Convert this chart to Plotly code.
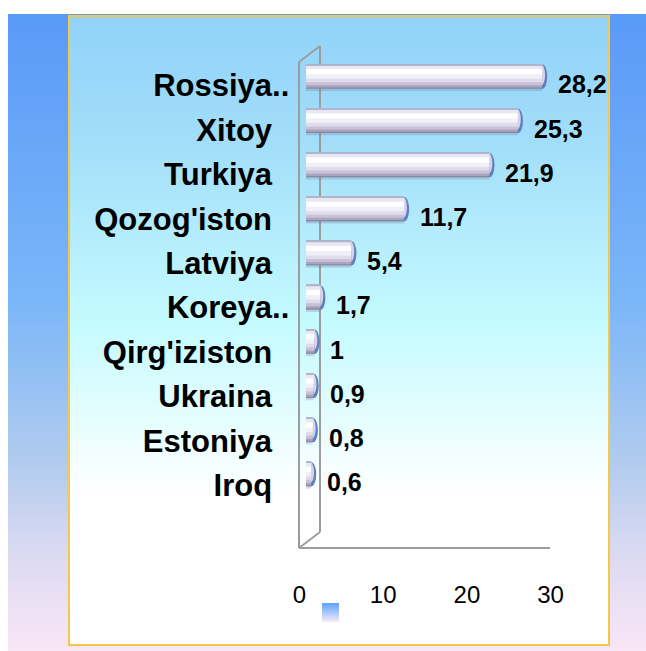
import base64
import plotly.graph_objects as go

# ---- data ----
countries = ["Rossiya..", "Xitoy", "Turkiya", "Qozog'iston", "Latviya",
             "Koreya..", "Qirg'iziston", "Ukraina", "Estoniya", "Iroq"]
values = [28.2, 25.3, 21.9, 11.7, 5.4, 1.7, 1, 0.9, 0.8, 0.6]
x_ticks = [0, 10, 20, 30]

W, H = 646, 651
idx = list(range(len(countries)))
value_text = [str(v).replace(".", ",") for v in values]
# labels without trailing dots are padded so all words end at the same place
tick_text = [c if c.endswith("..") else c + "\u00a0\u00a0" for c in countries]


def px_x(p):
    return p / W


def px_y(p):
    return 1 - p / H


# ---- background (slide gradient) as svg image ----
svg = f'''<svg xmlns="http://www.w3.org/2000/svg" width="{W}" height="{H}" viewBox="0 0 {W} {H}" preserveAspectRatio="none">
<defs>
<linearGradient id="o" x1="0" y1="0" x2="0" y2="1">
<stop offset="0" stop-color="#5a9af8"/>
<stop offset="0.45" stop-color="#7ab6f8"/>
<stop offset="0.7" stop-color="#b0cbee"/>
<stop offset="0.85" stop-color="#dcdaf2"/>
<stop offset="1" stop-color="#f9e6f6"/>
</linearGradient>
<linearGradient id="i" x1="0" y1="0" x2="0" y2="1">
<stop offset="0" stop-color="#92d2fa"/>
<stop offset="0.2" stop-color="#a2def9"/>
<stop offset="0.5" stop-color="#c6fbff"/>
<stop offset="0.76" stop-color="#ffffff"/>
<stop offset="1" stop-color="#ffffff"/>
</linearGradient>
<linearGradient id="s" x1="0" y1="0" x2="0" y2="1">
<stop offset="0" stop-color="#5ea2ff"/>
<stop offset="1" stop-color="#f6eaf8"/>
</linearGradient>
</defs>
<rect x="0" y="0" width="{W}" height="{H}" fill="#ffffff"/>
<rect x="8" y="14" width="{W-8}" height="{H-14}" fill="url(#o)"/>
<rect x="69" y="16" width="540" height="629" fill="url(#i)" stroke="#f5c84a" stroke-width="2"/>
<rect x="322" y="603" width="17" height="19" fill="url(#s)"/>
</svg>'''
bg_src = "data:image/svg+xml;base64," + base64.b64encode(svg.encode()).decode()

fig = go.Figure()

# cylinder-like bars: stacked overlay layers (shading), last drawn on top
layers = [
    (-0.25, 0.58, "rgba(90,100,140,0.22)"),   # soft shadow
    (-0.28, 0.56, "#8c86a0"),
    (-0.28, 0.53, "#aaa4bc"),
    (-0.28, 0.48, "#c8c2d8"),
    (-0.28, 0.41, "#e0dcec"),
    (-0.28, 0.33, "#f1eff8"),
    (-0.17, 0.12, "#ffffff"),
    (-0.25, 0.08, "#e8e8f4"),
    (-0.28, 0.03, "#b0b4cc"),
]
for off, wd, col in layers:
    fig.add_trace(go.Bar(
        x=values, y=idx, orientation="h",
        offset=off, width=wd,
        marker=dict(color=col, line=dict(width=0)),
        xaxis="x", yaxis="y", hoverinfo="skip", showlegend=False,
    ))

# invisible trace for the tick axes
fig.add_trace(go.Scatter(
    x=values, y=idx, mode="markers", marker=dict(opacity=0),
    xaxis="x2", yaxis="y2", hoverinfo="skip", showlegend=False,
))

shapes = []
# bar end caps (ellipses), below bars so that only the rounded end shows
for v, i in zip(values, idx):
    shapes.append(dict(type="circle", xref="x", yref="y", layer="below",
                       x0=v - 0.55, x1=v + 0.62, y0=i - 0.27, y1=i + 0.28,
                       fillcolor="#5f7fbe", line=dict(width=0)))
    shapes.append(dict(type="circle", xref="x", yref="y", layer="below",
                       x0=v - 0.55, x1=v + 0.36, y0=i - 0.27, y1=i + 0.2,
                       fillcolor="#d6d4ea", line=dict(width=0)))

# 3-D wall and floor lines
wall = "#9c9c9c"
segs = [
    ((299, 62), (299, 548)),
    ((299, 62), (320, 46)),
    ((320, 46), (320, 532)),
    ((299, 548), (320, 532)),
    ((299, 548), (550, 548)),
]
for (xa, ya), (xb, yb) in segs:
    shapes.append(dict(type="line", xref="paper", yref="paper", layer="below",
                       x0=px_x(xa), y0=px_y(ya), x1=px_x(xb), y1=px_y(yb),
                       line=dict(color=wall, width=2)))

font_main = "Arial, Liberation Sans, sans-serif"
annotations = [
    dict(x=v, y=i, xref="x", yref="y", text=t, showarrow=False,
         xanchor="left", yanchor="middle", xshift=14, yshift=-8,
         font=dict(family=font_main, size=25, color="#000000", weight="bold"))
    for v, i, t in zip(values, idx, value_text)
]

fig.update_layout(
    template="none",
    width=W, height=H,
    margin=dict(l=0, r=0, t=0, b=0, autoexpand=False),
    paper_bgcolor="rgba(0,0,0,0)", plot_bgcolor="rgba(0,0,0,0)",
    barmode="overlay", showlegend=False,
    images=[dict(source=bg_src, xref="paper", yref="paper", x=0, y=1,
                 sizex=1, sizey=1, xanchor="left", yanchor="top",
                 sizing="stretch", layer="below")],
    shapes=shapes, annotations=annotations,
    xaxis=dict(domain=[px_x(306), px_x(557.1)], range=[0, 30], anchor="y",
               showgrid=False, zeroline=False, showline=False,
               showticklabels=False, ticks="", automargin=False),
    yaxis=dict(domain=[px_y(548), px_y(62)], range=[10.674, -0.328],
               anchor="x", showgrid=False, zeroline=False, showline=False,
               showticklabels=False, ticks="", automargin=False),
    xaxis2=dict(domain=[px_x(299.5), px_x(550.6)], range=[0, 30], anchor="y2",
                tickvals=x_ticks, ticktext=[str(t) for t in x_ticks],
                showgrid=False, zeroline=False, showline=False, automargin=False,
                ticks="outside", ticklen=25, tickcolor="rgba(0,0,0,0)",
                tickfont=dict(family=font_main, size=24, color="#000000")),
    yaxis2=dict(domain=[px_y(548), px_y(62)], range=[10.414, -0.532],
                anchor="x2", tickvals=idx, ticktext=tick_text, automargin=False,
                showgrid=False, zeroline=False, showline=False,
                ticks="outside", ticklen=3, tickcolor="rgba(0,0,0,0)",
                tickfont=dict(family=font_main, size=31, color="#000000",
                              weight="bold")),
)

fig.write_html(
    "out.html",
    config={"displayModeBar": False},
    post_script="document.body.style.margin='0';document.body.style.overflow='hidden';",
)
